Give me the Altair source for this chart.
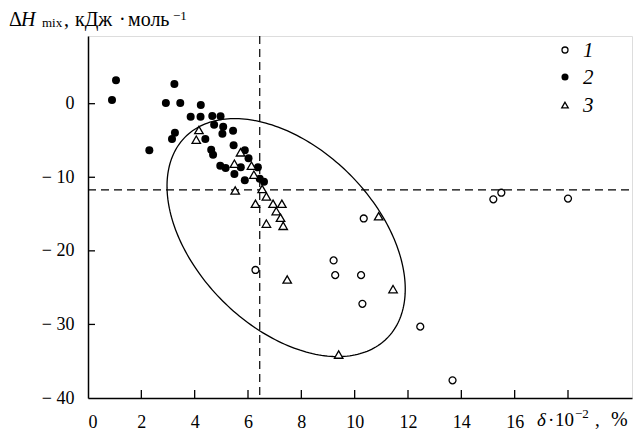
import altair as alt
import numpy as np
import pandas as pd

# ---- data ----
open_x = [6.28, 10.34, 9.21, 9.27, 10.24, 10.29, 12.46, 13.67, 15.2, 15.5, 18.0]
open_y = [-22.6, -15.6, -21.3, -23.3, -23.3, -27.2, -30.3, -37.6, -13.0, -12.1, -12.9]

filled_x = [1.05, 0.90, 3.24, 2.92, 3.46, 4.23, 3.85, 4.22, 4.66, 4.97, 4.73, 5.07, 5.04,
            5.44, 3.26, 3.15, 4.40, 2.30, 5.46, 4.62, 4.69, 5.88, 6.02, 4.96, 5.16, 5.73,
            6.37, 5.49, 5.88, 6.44, 6.60]
filled_y = [3.17, 0.50, 2.67, 0.09, 0.09, -0.18, -1.77, -1.77, -1.68, -1.72, -2.85, -3.13, -4.08,
            -3.67, -3.94, -4.80, -4.80, -6.34, -5.66, -6.25, -6.93, -6.34, -7.43, -8.42, -8.74, -8.65,
            -8.65, -9.55, -10.4, -10.2, -10.6]

tri_x = [4.16, 4.06, 5.72, 5.49, 6.13, 6.22, 5.52, 6.53, 6.69, 6.28, 6.94, 7.27, 7.06, 7.22,
         7.32, 6.69, 7.47, 10.9, 11.44, 9.40]
tri_y = [-3.58, -4.89, -6.61, -8.15, -8.42, -9.65, -11.8, -11.6, -12.6, -13.6, -13.6, -13.6, -14.6, -15.5,
         -16.6, -16.3, -23.9, -15.3, -25.2, -34.1]

h_line_y = [-11.7]
v_line_x = [6.44]

# ellipse: centre and two conjugate semi-axis vectors (data units)
ell_center = [7.43, -18.2]
ell_u = [3.78, -13.69]
ell_v = [-2.38, -8.61]

x_ticks = [0, 2, 4, 6, 8, 10, 12, 14, 16, 18]
y_ticks = [0, -10, -20, -30, -40]

legend_labels = ["1", "2", "3"]

FONT = "Liberation Serif, Times New Roman, DejaVu Serif, serif"
W, H = 544, 362

xs = alt.Scale(domain=[0, 20.4], nice=False, zero=False)
ys = alt.Scale(domain=[-40, 9.2], nice=False, zero=False)

x_axis = alt.Axis(values=x_ticks, title=None, grid=False, ticks=False,
                  labelExpr="datum.value == 18 ? '' : datum.label",
                  labelFont=FONT, labelFontSize=18, labelColor="black", labelPadding=15,
                  domainColor="black", domainWidth=1.5)
y_axis = alt.Axis(values=y_ticks, title=None, grid=False, ticks=False,
                  labelExpr="datum.value < 0 ? '\u2212 ' + abs(datum.value) : datum.label",
                  labelFont=FONT, labelFontSize=18, labelColor="black", labelPadding=14,
                  domainColor="black", domainWidth=1.5)

df_open = pd.DataFrame({"x": open_x, "y": open_y})
df_filled = pd.DataFrame({"x": filled_x, "y": filled_y})
df_tri = pd.DataFrame({"x": tri_x, "y": tri_y})

t = np.linspace(0, 2 * np.pi, 241)
df_ell = pd.DataFrame({
    "x": ell_center[0] + ell_u[0] * np.cos(t) + ell_v[0] * np.sin(t),
    "y": ell_center[1] + ell_u[1] * np.cos(t) + ell_v[1] * np.sin(t),
    "i": np.arange(len(t)),
})

base_axes = alt.Chart(df_open).mark_point(opacity=0).encode(
    x=alt.X("x:Q", scale=xs, axis=x_axis),
    y=alt.Y("y:Q", scale=ys, axis=y_axis),
)

hline = alt.Chart(pd.DataFrame({"y": h_line_y})).mark_rule(
    color="black", strokeWidth=1.2, strokeDash=[8, 5]).encode(
    y=alt.Y("y:Q", scale=ys), x=alt.value(0), x2=alt.value(W))
vline = alt.Chart(pd.DataFrame({"x": v_line_x})).mark_rule(
    color="black", strokeWidth=1.2, strokeDash=[8, 5]).encode(
    x=alt.X("x:Q", scale=xs), y=alt.value(0), y2=alt.value(H))

xtick_marks = alt.Chart(pd.DataFrame({"x": x_ticks[1:]})).mark_rule(
    color="black", strokeWidth=1.3).encode(
    x=alt.X("x:Q", scale=xs), y=alt.value(H), y2=alt.value(H - 8))
ytick_marks = alt.Chart(pd.DataFrame({"y": y_ticks[:-1]})).mark_rule(
    color="black", strokeWidth=1.3).encode(
    y=alt.Y("y:Q", scale=ys), x=alt.value(0), x2=alt.value(7))

ellipse = alt.Chart(df_ell).mark_line(color="black", strokeWidth=1.3).encode(
    x=alt.X("x:Q", scale=xs), y=alt.Y("y:Q", scale=ys), order="i:Q")

pts_filled = alt.Chart(df_filled).mark_point(
    shape="circle", filled=True, color="black", size=64, opacity=1).encode(
    x=alt.X("x:Q", scale=xs), y=alt.Y("y:Q", scale=ys))
pts_open = alt.Chart(df_open).mark_point(
    shape="circle", filled=True, fill="white", stroke="black", strokeWidth=1.3,
    size=48, opacity=1).encode(
    x=alt.X("x:Q", scale=xs), y=alt.Y("y:Q", scale=ys))
pts_tri = alt.Chart(df_tri).mark_point(
    shape="triangle-up", filled=True, fill="white", stroke="black", strokeWidth=1.3,
    size=72, opacity=1).encode(
    x=alt.X("x:Q", scale=xs), y=alt.Y("y:Q", scale=ys))

one = pd.DataFrame({"k": [0]})


def txt(s, x, y, size=20, italic=False, align="left", baseline="alphabetic"):
    return alt.Chart(one).mark_text(
        text=s, font=FONT, fontSize=size, fontStyle="italic" if italic else "normal",
        color="black", align=align, baseline=baseline).encode(
        x=alt.value(x), y=alt.value(y))


# legend (manual)
leg_open = alt.Chart(one).mark_point(shape="circle", filled=True, fill="white", stroke="black",
                                      strokeWidth=1.3, size=36, opacity=1).encode(
    x=alt.value(477), y=alt.value(14))
leg_filled = alt.Chart(one).mark_point(shape="circle", filled=True, color="black",
                                        size=50, opacity=1).encode(
    x=alt.value(477), y=alt.value(41))
leg_tri = alt.Chart(one).mark_point(shape="triangle-up", filled=True, fill="white", stroke="black",
                                     strokeWidth=1.3, size=42, opacity=1).encode(
    x=alt.value(477), y=alt.value(69))
leg_texts = [txt(legend_labels[0], 495, 21, size=21, italic=True),
             txt(legend_labels[1], 495, 48, size=21, italic=True),
             txt(legend_labels[2], 495, 76, size=21, italic=True)]

# axis titles (composed pieces, positions relative to plot origin)
ytitle = [txt("\u0394", -79, -10), txt("H", -67, -10, italic=True),
          txt("mix", -46, -9, size=13),
          txt(",", -24, -10),
          txt("\u043a\u0414\u0436", -13, -10),
          txt("\u00b7", 31, -10),
          txt("\u043c\u043e\u043b\u044c", 40, -10),
          txt("\u22121", 85, -16, size=13)]
xtitle = [txt("\u03b4", 449, 390, size=19, italic=True),
          txt("\u00b7", 460, 390, size=19),
          txt("10", 467, 390, size=19),
          txt("\u22122", 487, 382, size=13),
          txt(",", 507, 390, size=19),
          txt("%", 523, 390, size=20)]

chart = alt.layer(
    base_axes, hline, vline, xtick_marks, ytick_marks, ellipse,
    pts_filled, pts_open, pts_tri,
    leg_open, leg_filled, leg_tri, *leg_texts, *ytitle, *xtitle,
).properties(
    width=W, height=H,
    autosize=alt.AutoSizeParams(type="none"),
    padding={"left": 88, "top": 36, "right": 7, "bottom": 34},
).configure_view(stroke=None).configure(background="white")

chart.save("out.html", embed_options={"renderer": "svg", "actions": False})
